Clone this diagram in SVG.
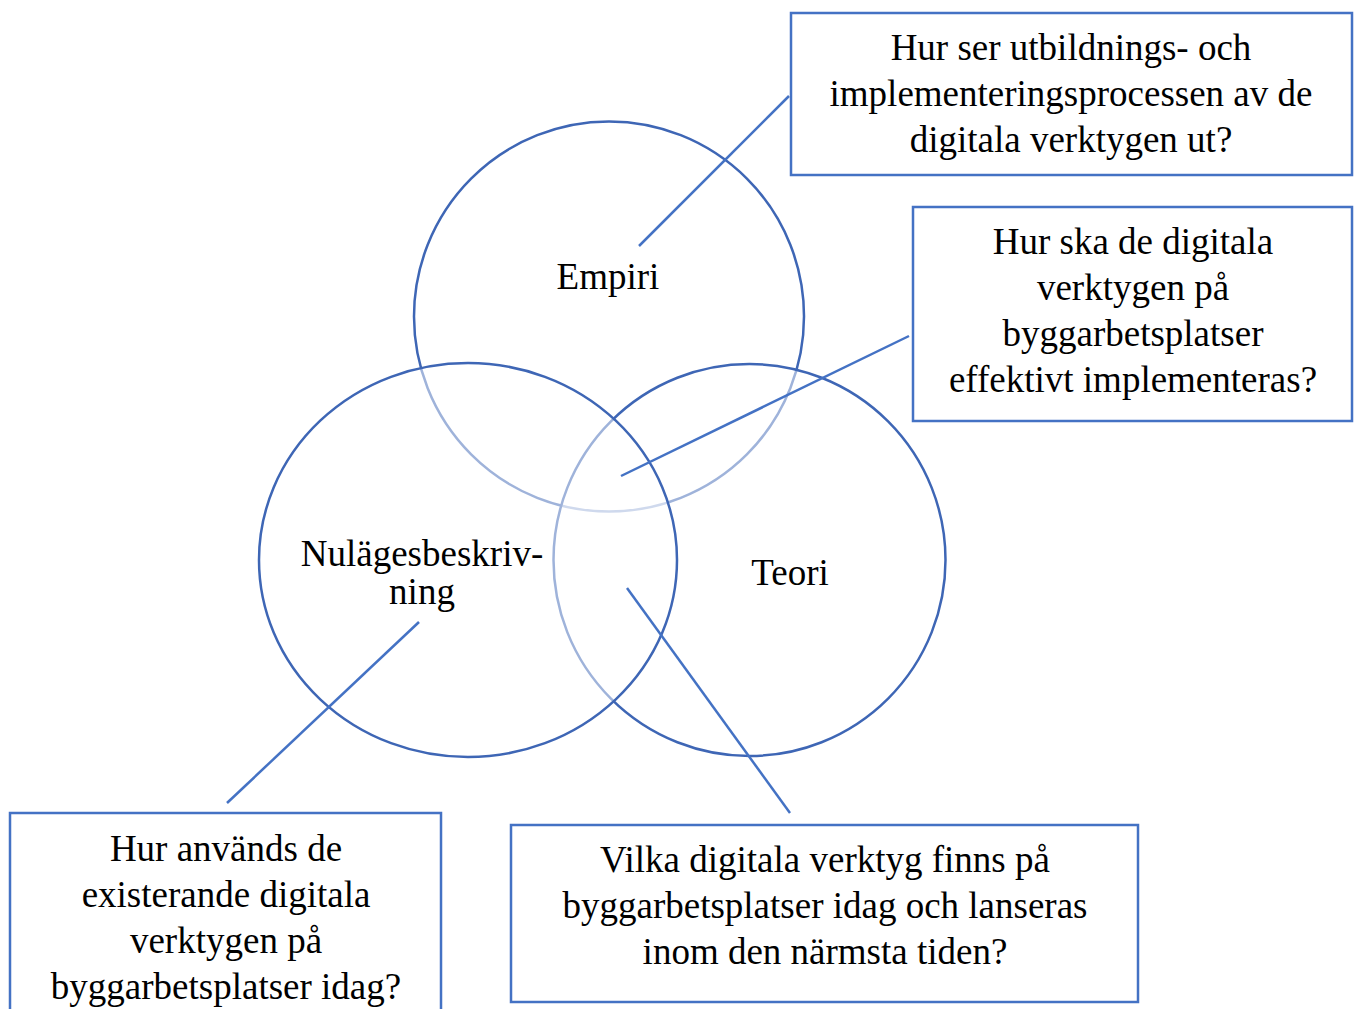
<svg xmlns="http://www.w3.org/2000/svg" width="1357" height="1009" viewBox="0 0 1357 1009">
  <style>
    .ring { fill: #ffffff; fill-opacity: 0.5; stroke: #3e66b5; stroke-width: 2.5; }
    .box { fill: #ffffff; stroke: #4472c4; stroke-width: 2.5; }
    .lbl { font-family: "Liberation Serif", "Times New Roman", serif; font-size: 37px; fill: #000000; text-anchor: middle; }
    .conn line { stroke: #4472c4; stroke-width: 2.5; }
  </style>
  <rect width="1357" height="1009" fill="#ffffff"/>

  <!-- Venn circles: each has a half-transparent white fill that softens rings drawn earlier -->
  <g id="empiri">
    <circle class="ring" cx="609" cy="316.5" r="195"/>
  </g>
  <g id="teori">
    <circle class="ring" cx="749.5" cy="560" r="196"/>
  </g>
  <g id="nulage">
    <ellipse class="ring" cx="468" cy="560" rx="209" ry="197"/>
  </g>

  <!-- leader lines from the circle areas to the question boxes -->
  <g id="connectors" class="conn">
    <line x1="639" y1="246" x2="789" y2="96"/>
    <line x1="621" y1="476" x2="909" y2="336"/>
    <line x1="419" y1="622" x2="227" y2="803"/>
    <line x1="627" y1="588" x2="790" y2="813"/>
  </g>

  <!-- circle labels -->
  <g id="empiri-label">
    <text class="lbl" x="608" y="289">Empiri</text>
  </g>
  <g id="teori-label">
    <text class="lbl" x="790" y="585">Teori</text>
  </g>
  <g id="nulage-label">
    <text class="lbl" x="422" y="566">Nulägesbeskriv-</text>
    <text class="lbl" x="422" y="604">ning</text>
  </g>

  <!-- question boxes -->
  <g id="q-utbildning">
    <rect class="box" x="791" y="13" width="561" height="162"/>
    <text class="lbl" x="1071" y="60">Hur ser utbildnings- och</text>
    <text class="lbl" x="1071" y="106">implementeringsprocessen av de</text>
    <text class="lbl" x="1071" y="152">digitala verktygen ut?</text>
  </g>
  <g id="q-implementering">
    <rect class="box" x="913" y="207" width="439" height="214"/>
    <text class="lbl" x="1133" y="254">Hur ska de digitala</text>
    <text class="lbl" x="1133" y="300">verktygen på</text>
    <text class="lbl" x="1133" y="346">byggarbetsplatser</text>
    <text class="lbl" x="1133" y="392">effektivt implementeras?</text>
  </g>
  <g id="q-anvandning">
    <rect class="box" x="10" y="813" width="431" height="210"/>
    <text class="lbl" x="226" y="861">Hur används de</text>
    <text class="lbl" x="226" y="907">existerande digitala</text>
    <text class="lbl" x="226" y="953">verktygen på</text>
    <text class="lbl" x="226" y="999">byggarbetsplatser idag?</text>
  </g>
  <g id="q-verktyg">
    <rect class="box" x="511" y="825" width="627" height="177"/>
    <text class="lbl" x="825" y="872">Vilka digitala verktyg finns på</text>
    <text class="lbl" x="825" y="918">byggarbetsplatser idag och lanseras</text>
    <text class="lbl" x="825" y="964">inom den närmsta tiden?</text>
  </g>
</svg>
